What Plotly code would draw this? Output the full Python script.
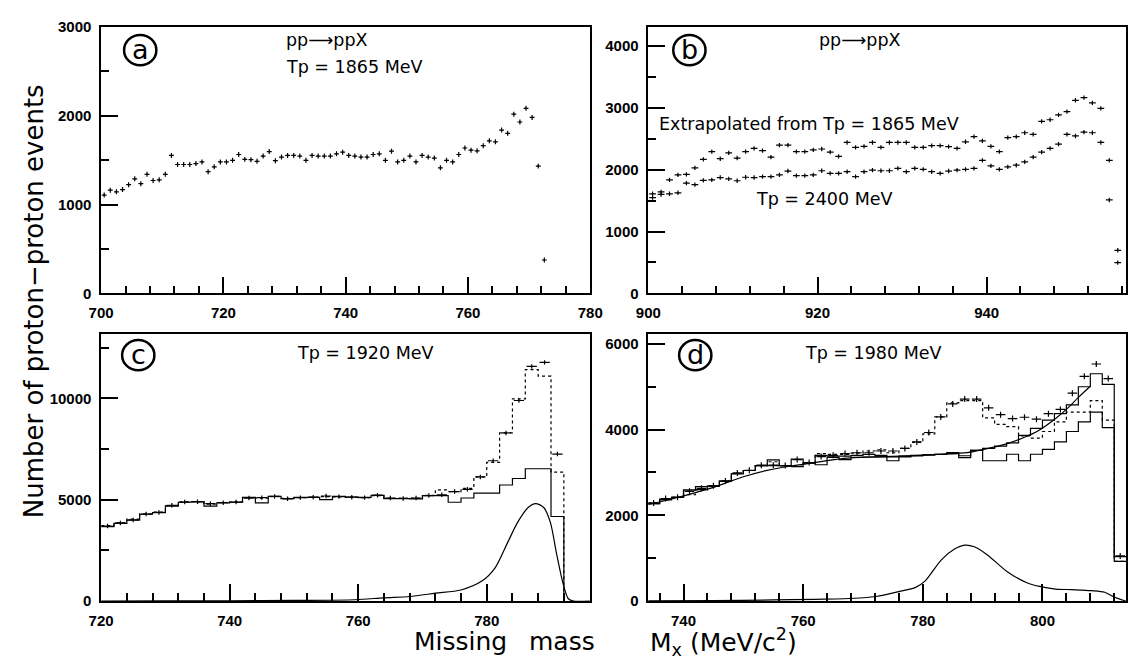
import plotly.graph_objects as go

W, H = 1140, 667


def px(x):
    return x / W


def py(y):
    return 1 - y / H


# ---------------- data ----------------
# Panel (a): pp -> ppX, Tp = 1865 MeV, 1 MeV bins
a_mx = [700.5 + i for i in range(73)]
a_events = [1108, 1163, 1145, 1170, 1225, 1291, 1236, 1342, 1272, 1280,
            1342, 1554, 1452, 1452, 1452, 1463, 1481, 1371, 1426, 1481,
            1481, 1499, 1565, 1510, 1506, 1488, 1547, 1598, 1495, 1536,
            1554, 1554, 1547, 1499, 1554, 1547, 1547, 1547, 1572, 1591,
            1554, 1547, 1536, 1536, 1565, 1572, 1499, 1602, 1481, 1499,
            1547, 1481, 1554, 1536, 1525, 1415, 1499, 1481, 1565, 1638,
            1613, 1606, 1664, 1719, 1708, 1840, 1803, 2019, 1931, 2085,
            1982, 1434, 377]

# Panel (b): extrapolated from Tp = 1865 MeV, and Tp = 2400 MeV, 1 MeV bins
b_mx = [900.5 + i for i in range(56)]
b_extrap = [1609, 1640, 1834, 1913, 1923, 2028, 2165, 2290, 2175, 2269,
            2186, 2290, 2343, 2306, 2201, 2395, 2395, 2290, 2290, 2317,
            2332, 2280, 2212, 2437, 2358, 2374, 2437, 2358, 2437, 2437,
            2437, 2358, 2358, 2385, 2385, 2369, 2343, 2448, 2531, 2463,
            2374, 2290, 2516, 2531, 2594, 2568, 2778, 2804, 2883, 2935,
            3118, 3160, 3076, 2987, 2149, 697]
b_2400 = [1546, 1598, 1609, 1625, 1782, 1756, 1824, 1834, 1871, 1850,
          1819, 1876, 1871, 1887, 1887, 1913, 1976, 1902, 1902, 1913,
          1981, 1939, 1939, 1965, 1887, 1965, 1992, 1981, 1981, 2018,
          1965, 2018, 2002, 1965, 1939, 1976, 1992, 2002, 2018, 2149,
          2060, 2002, 2044, 2070, 2123, 2201, 2280, 2343, 2411, 2568,
          2542, 2605, 2594, 2437, 1509, 498]

# Panel (c): Tp = 1920 MeV, 2 MeV bins from 720 to 792
c_edges = list(range(720, 794, 2))
c_data = [3700, 3850, 4000, 4290, 4370, 4720, 4880, 4900, 4800, 4850,
          4880, 5080, 5100, 5160, 5040, 5100, 5120, 5180, 5150, 5120,
          5100, 5220, 5080, 5060, 5080, 5200, 5240, 5400, 5510, 6120,
          6920, 8290, 9890, 11570, 11770, 7250]
c_dotted = [3720, 3860, 4040, 4300, 4380, 4700, 4890, 4900, 4780, 4860,
            4890, 5100, 5080, 5150, 5060, 5100, 5110, 5150, 5130, 5110,
            5100, 5200, 5060, 5070, 5060, 5210, 5480, 5400, 5560, 6120,
            6840, 8290, 9970, 11410, 11090, 6360]
c_solid = [3671, 3831, 3991, 4280, 4360, 4681, 4873, 4889, 4681, 4841,
           4873, 5114, 4841, 5162, 5050, 5114, 5114, 5001, 5162, 5130,
           5114, 5210, 5050, 5050, 5034, 5194, 5194, 4873, 5082, 5322,
           5322, 5723, 6043, 6524, 6524, 4168]
c_sig_mx = [720, 730, 740, 750, 759.5, 764, 768, 772, 776, 779.3, 781.3,
            783.3, 784.8, 786.4, 787.6, 788.9, 789.9, 790.9, 791.9, 792.7,
            793.5, 796]
c_sig = [0, 5, 12, 30, 64, 160, 224, 385, 545, 994, 1635,
         2917, 3879, 4600, 4809, 4600, 3879, 2276, 834, 112,
         0, 0]

# Panel (d): Tp = 1980 MeV, 2 MeV bins from 734 to 814
d_edges = list(range(734, 816, 2))
d_data = [2290, 2390, 2420, 2560, 2630, 2690, 2800, 2990, 3050, 3170,
          3170, 3160, 3300, 3230, 3370, 3400, 3440, 3460, 3460, 3500,
          3500, 3561, 3712, 3932, 4296, 4599, 4712, 4712, 4508, 4349,
          4258, 4288, 4243, 4371, 4470, 4849, 5243, 5530, 5190, 1053]
d_dotted = [2290, 2380, 2420, 2480, 2590, 2682, 2796, 2970, 3045, 3159,
            3250, 3159, 3140, 3220, 3440, 3420, 3420, 3450, 3500, 3530,
            3460, 3560, 3700, 3900, 4296, 4621, 4674, 4674, 4273, 4121,
            4068, 3850, 3800, 3955, 4182, 4409, 4409, 4674, 4220, 924]
d_solid1 = [2273, 2379, 2417, 2590, 2667, 2682, 2796, 2970, 3045, 3159,
            3295, 3159, 3311, 3220, 3400, 3380, 3380, 3400, 3420, 3400,
            3364, 3380, 3400, 3409, 3424, 3462, 3390, 3515, 3561, 3614,
            3689, 3864, 4030, 4220, 4371, 4576, 5000, 5303, 5053, 1038]
d_solid2 = [2273, 2360, 2417, 2590, 2600, 2682, 2796, 2970, 3045, 3159,
            3159, 3159, 3136, 3220, 3180, 3350, 3300, 3350, 3360, 3364,
            3273, 3364, 3386, 3409, 3424, 3439, 3348, 3515, 3273, 3273,
            3424, 3273, 3424, 3538, 3712, 3955, 4182, 4409, 4046, 924]
d_fit_mx = [734, 738, 742, 746, 750, 754, 758, 762, 766.8, 772.2, 777.6,
            783.1, 787.4, 790.2, 794.0, 796.7, 799.5, 802.2, 804.4, 806.0,
            807.9]
d_fit = [2250, 2380, 2530, 2700, 2900, 3050, 3150, 3230, 3330, 3364, 3386,
         3424, 3462, 3538, 3667, 3803, 3992, 4258, 4523, 4750,
         5000]
d_sig_mx = [734, 745, 755, 762, 766.8, 772.2, 776.0, 778.8, 780.4, 783.1,
            785.3, 787.0, 788.6, 790.8, 794.0, 797.3, 799.5, 802.2, 804.9,
            808.2, 810.4, 812.0, 813.9]
d_sig = [5, 12, 25, 40, 53, 106, 220, 318, 470, 962,
         1212, 1303, 1265, 1076, 697, 432, 341, 280, 265,
         242, 205, 91, 0]

# ---------------- figure ----------------
fig = go.Figure()
BLACK = "black"


def crosses(x, y, xa, ya, ex, ey):
    return go.Scatter(
        x=x, y=y, xaxis=xa, yaxis=ya, mode="markers",
        marker=dict(size=1.5, color=BLACK),
        error_x=dict(type="constant", value=ex, width=0, thickness=1.2, color=BLACK),
        error_y=dict(type="constant", value=ey, width=0, thickness=1.2, color=BLACK),
        showlegend=False, hoverinfo="skip")


def steps(edges, vals, xa, ya, dash="solid", drop=False):
    ys = list(vals) + ([0] if drop else [vals[-1]])
    return go.Scatter(
        x=list(edges), y=ys, xaxis=xa, yaxis=ya, mode="lines",
        line=dict(shape="hv", color=BLACK, width=1.2, dash=dash),
        showlegend=False, hoverinfo="skip")


def curve(x, y, xa, ya):
    return go.Scatter(
        x=x, y=y, xaxis=xa, yaxis=ya, mode="lines",
        line=dict(shape="spline", smoothing=0.8, color=BLACK, width=1.2),
        showlegend=False, hoverinfo="skip")


fig.add_trace(crosses(a_mx, a_events, "x", "y", 0.4, 28))
fig.add_trace(crosses(b_mx, b_extrap, "x2", "y2", 0.4, 35))
fig.add_trace(crosses(b_mx, b_2400, "x2", "y2", 0.4, 35))
c_centers = [e + 1 for e in c_edges[:-1]]
fig.add_trace(steps(c_edges, c_solid, "x3", "y3", drop=True))
fig.add_trace(steps(c_edges, c_dotted, "x3", "y3", dash="dot", drop=True))
fig.add_trace(curve(c_sig_mx, c_sig, "x3", "y3"))
fig.add_trace(crosses(c_centers, c_data, "x3", "y3", 0.8, 110))
d_centers = [e + 1 for e in d_edges[:-1]]
fig.add_trace(steps(d_edges, d_solid2, "x4", "y4"))
fig.add_trace(steps(d_edges, d_solid1, "x4", "y4"))
fig.add_trace(steps(d_edges, d_dotted, "x4", "y4", dash="dot"))
fig.add_trace(curve(d_fit_mx, d_fit, "x4", "y4"))
fig.add_trace(curve(d_sig_mx, d_sig, "x4", "y4"))
fig.add_trace(crosses(d_centers, d_data, "x4", "y4", 0.8, 70))

TICKFONT = dict(family="Liberation Sans", size=15, color=BLACK, weight="bold")


def axis(domain, rng, dtick, mdtick, anchor):
    return dict(
        domain=domain, range=rng, anchor=anchor, showline=True,
        linecolor=BLACK, linewidth=1.5, mirror=True, ticks="inside",
        ticklen=17, tickwidth=1.8, tickcolor=BLACK, dtick=dtick, tick0=0,
        tickformat="d", showgrid=False, zeroline=False, tickfont=TICKFONT,
        ticklabelstandoff=5,
        minor=dict(dtick=mdtick, ticks="inside", ticklen=8, tickwidth=1.8,
                   tickcolor=BLACK, showgrid=False))


# The page body has a default 8 px margin; place the grid relative to it.
OFF = 8
xl = [px(90 - OFF), px(590.5 - OFF)]
xr = [px(650 - OFF), px(1139 - OFF)]
yt = [py(291.7 - OFF), py(18.3 - OFF)]
yb = [py(607.3 - OFF), py(333.3 - OFF)]

fig.update_layout(
    width=W, height=H,
    margin=dict(l=0, r=0, t=0, b=0),
    paper_bgcolor="white", plot_bgcolor="white",
    showlegend=False,
    xaxis=axis(xl, [700, 780], 20, 4, "y"),
    yaxis=axis(yt, [0, 3000], 1000, 500, "x"),
    xaxis2=axis(xr, [900, 956.5], 20, 4, "y2"),
    yaxis2=axis(yt, [0, 4300], 1000, 500, "x2"),
    xaxis3=axis(xl, [720, 796.1], 20, 4, "y3"),
    yaxis3=axis(yb, [0, 13170], 5000, 2500, "x3"),
    xaxis4=axis(xr, [734.12, 814.0], 20, 4, "y4"),
    yaxis4=axis(yb, [0, 6230], 2000, 1000, "x4"),
)

TXT = dict(family="DejaVu Sans", size=17.5, color=BLACK)
annots = []


def text(s, x, y, anchor="left", font=TXT, angle=0):
    annots.append(dict(text=s, x=px(x - OFF), y=py(y - OFF), xref="paper", yref="paper",
                       xanchor=anchor, yanchor="middle", showarrow=False,
                       font=font, textangle=angle))


text("pp\u27f6ppX", 277, 32)
text("Tp = 1865 MeV", 277, 59)
text("pp\u27f6ppX", 823, 32)
text("Extrapolated from Tp = 1865 MeV", 659, 118)
text("Tp = 2400 MeV", 758, 195)
text("Tp = 1920 MeV", 288, 353)
text("Tp = 1980 MeV", 808, 353)

shapes = []
LET = dict(family="DejaVu Sans", size=27, color=BLACK)
for letter, cx, cy in [("a", 130, 42), ("b", 692, 42), ("c", 128, 355), ("d", 698, 355)]:
    shapes.append(dict(type="circle", xref="paper", yref="paper",
                       x0=px(cx - 16.5 - OFF), x1=px(cx + 16.5 - OFF),
                       y0=py(cy + 15.5 - OFF), y1=py(cy - 15.5 - OFF),
                       line=dict(color=BLACK, width=2.5)))
    text(letter, cx, cy - 1, anchor="center", font=LET)

text("Number of proton\u2212proton events", 21, 300, anchor="center",
     font=dict(family="DejaVu Sans", size=26, color=BLACK), angle=-90)
XT = dict(family="DejaVu Sans", size=25, color=BLACK)
text("Missing", 458, 649, anchor="center", font=XT)
text("mass", 562, 649, anchor="center", font=XT)
text("M<sub>x</sub> (MeV/c<sup>2</sup>)", 727, 649, anchor="center", font=XT)

fig.update_layout(annotations=annots, shapes=shapes)

fig.write_html("out.html")
